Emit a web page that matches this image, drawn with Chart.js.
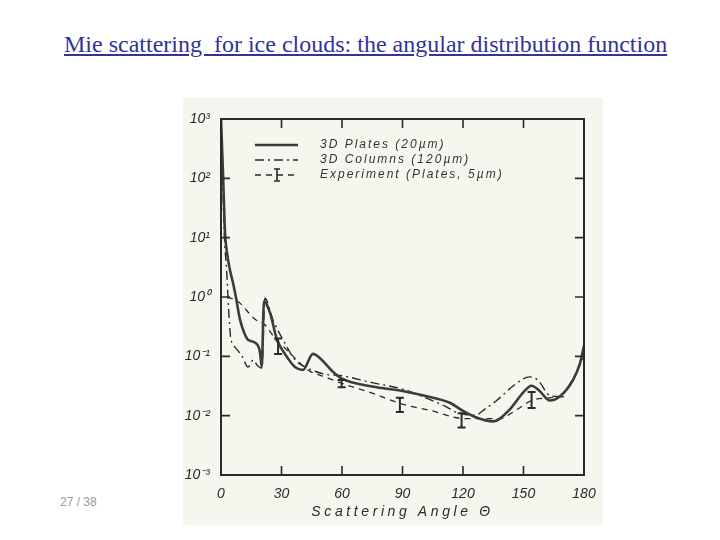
<!DOCTYPE html>
<html>
<head>
<meta charset="utf-8">
<script src="https://cdn.jsdelivr.net/npm/chart.js@4.4.1/dist/chart.umd.min.js"></script>
<style>
body { margin:0; background:#fff; width:720px; height:540px; position:relative; overflow:hidden; }
#title { position:absolute; left:64px; top:31px; font-family:'Liberation Serif', serif; font-size:24px; color:#333399; text-decoration:underline; white-space:pre; }
#page { position:absolute; left:60px; top:495px; font-family:'Liberation Sans', sans-serif; font-size:12px; color:#999; }
#scan { position:absolute; left:183px; top:98px; width:420px; height:427px; background:#f6f6ef; }
</style>
</head>
<body>
<div id="title">Mie scattering  for ice clouds: the angular distribution function</div>
<div id="page">27 / 38</div>
<div id="scan"><canvas id="phaseChart"></canvas></div>
<script>
// values (angle in degrees, phase function)
const platesAngle = [0, 1, 2, 3, 4.5, 6, 7.5, 9.4, 11.5, 13.4, 16.9, 19.3, 20.2, 21.3, 24.3, 27.8, 31.7, 36.7, 40.6, 45.6, 50, 55.5, 60, 75, 90, 100, 113.5, 120, 126, 135, 143, 150, 154, 158, 163, 168, 174.6, 178, 180];
const platesValue = [1000, 120, 12, 5.5, 2.8, 1.7, 0.95, 0.42, 0.25, 0.19, 0.17, 0.12, 0.066, 0.85, 0.54, 0.19, 0.11, 0.066, 0.059, 0.11, 0.087, 0.055, 0.042, 0.031, 0.026, 0.022, 0.0165, 0.012, 0.0095, 0.008, 0.0125, 0.025, 0.032, 0.026, 0.018, 0.021, 0.04, 0.076, 0.15];

const columnsAngle = [0, 0.8, 1.7, 2.8, 3.8, 4.7, 6, 8.3, 10.5, 13.4, 16, 18, 20.3, 21.8, 25.8, 31.7, 36.7, 43, 51.6, 60, 75, 90, 100, 110, 118, 126, 131, 136.7, 145, 153, 157, 163, 168, 172, 176, 180];
const columnsValue = [1000, 100, 10, 2.8, 0.6, 0.22, 0.16, 0.126, 0.1, 0.066, 0.087, 0.07, 0.063, 0.95, 0.41, 0.166, 0.087, 0.063, 0.05, 0.047, 0.036, 0.028, 0.021, 0.015, 0.011, 0.0102, 0.013, 0.018, 0.032, 0.045, 0.04, 0.022, 0.021, 0.03, 0.052, 0.1];

const expAngle = [3, 5, 8.6, 16.9, 21.8, 28.3, 30, 36.7, 43, 51.6, 60, 75, 89, 105, 119, 127, 138, 146.6, 154, 163, 171.4];
const expValue = [1.0, 0.95, 0.83, 0.42, 0.34, 0.17, 0.155, 0.093, 0.059, 0.045, 0.035, 0.024, 0.016, 0.012, 0.009, 0.0089, 0.0089, 0.0126, 0.018, 0.02, 0.021];

const barAngle = [28.3, 59.8, 88.7, 119.3, 154];
const barLow = [0.11, 0.030, 0.0115, 0.0063, 0.0135];
const barHigh = [0.2, 0.040, 0.020, 0.011, 0.025];

const seriesNames = ['3D Plates (20\u00b5m)', '3D Columns (120\u00b5m)', 'Experiment (Plates, 5\u00b5m)'];
const xTicks = [0, 30, 60, 90, 120, 150, 180];
const yTicks = [0.001, 0.01, 0.1, 1, 10, 100, 1000];
const yTickLabels = ['10\u207b\u00b3', '10\u207b\u00b2', '10\u207b\u00b9', '10\u2070', '10\u00b9', '10\u00b2', '10\u00b3'];

const ink = '#2a2a2a';

function pts(xs, ys) {
  return xs.map((x, i) => ({ x: x, y: ys[i] }));
}

const scanPlugin = {
  id: 'scan',
  afterUpdate(chart) {
    const s = chart.scales.x;
    if (!s._spaced) {
      const orig = s.drawTitle;
      s.drawTitle = function (a) {
        this.ctx.save();
        this.ctx.letterSpacing = '3.6px';
        orig.call(this, a);
        this.ctx.restore();
      };
      s._spaced = true;
    }
  },
  afterDatasetsDraw(chart) {
    const ctx = chart.ctx;
    const a = chart.chartArea;
    const xs = chart.scales.x, ys = chart.scales.y;
    ctx.save();
    ctx.strokeStyle = ink;

    // error bars of the experiment
    ctx.lineWidth = 2;
    barAngle.forEach((ang, i) => {
      const x = xs.getPixelForValue(ang);
      const y1 = ys.getPixelForValue(barLow[i]);
      const y2 = ys.getPixelForValue(barHigh[i]);
      ctx.beginPath();
      ctx.moveTo(x, y1); ctx.lineTo(x, y2);
      ctx.moveTo(x - 4, y1); ctx.lineTo(x + 4, y1);
      ctx.moveTo(x - 4, y2); ctx.lineTo(x + 4, y2);
      ctx.stroke();
    });

    // frame
    ctx.lineWidth = 2;
    ctx.strokeRect(a.left, a.top, a.right - a.left, a.bottom - a.top);

    // inward ticks
    ctx.lineWidth = 1.6;
    ctx.beginPath();
    xTicks.slice(1, -1).forEach(v => {
      const x = xs.getPixelForValue(v);
      ctx.moveTo(x, a.bottom); ctx.lineTo(x, a.bottom - 9);
      ctx.moveTo(x, a.top); ctx.lineTo(x, a.top + 9);
    });
    yTicks.slice(1, -1).forEach(v => {
      const y = ys.getPixelForValue(v);
      ctx.moveTo(a.left, y); ctx.lineTo(a.left + 9, y);
      ctx.moveTo(a.right, y); ctx.lineTo(a.right - 9, y);
    });
    ctx.stroke();

    // legend inside the plot
    ctx.font = 'italic 12px "Liberation Sans", sans-serif';
    ctx.letterSpacing = '2px';
    ctx.textBaseline = 'middle';
    ctx.fillStyle = '#333';
    chart.data.datasets.forEach((ds, i) => {
      const y = a.top + 26 + 15 * i;
      ctx.save();
      ctx.lineWidth = ds.borderWidth;
      ctx.strokeStyle = ds.borderColor;
      ctx.setLineDash(ds.borderDash || []);
      ctx.beginPath();
      ctx.moveTo(a.left + 34, y); ctx.lineTo(a.left + 77, y);
      ctx.stroke();
      ctx.restore();
      if (i === 2) {
        const x = a.left + 56;
        ctx.lineWidth = 1.6;
        ctx.beginPath();
        ctx.moveTo(x, y - 6); ctx.lineTo(x, y + 6);
        ctx.moveTo(x - 3, y - 6); ctx.lineTo(x + 3, y - 6);
        ctx.moveTo(x - 3, y + 6); ctx.lineTo(x + 3, y + 6);
        ctx.stroke();
      }
      ctx.fillText(ds.label, a.left + 99, y);
    });
    ctx.restore();
  }
};

new Chart(document.getElementById('phaseChart'), {
  type: 'line',
  data: {
    datasets: [
      {
        label: seriesNames[0],
        data: pts(platesAngle, platesValue),
        borderColor: '#3c3c3c',
        borderWidth: 2.6,
        pointRadius: 0,
        cubicInterpolationMode: 'monotone'
      },
      {
        label: seriesNames[1],
        data: pts(columnsAngle, columnsValue),
        borderColor: ink,
        borderWidth: 1.4,
        borderDash: [9, 4, 2, 4],
        pointRadius: 0,
        cubicInterpolationMode: 'monotone'
      },
      {
        label: seriesNames[2],
        data: pts(expAngle, expValue),
        borderColor: ink,
        borderWidth: 1.3,
        borderDash: [6, 5],
        pointRadius: 0,
        cubicInterpolationMode: 'monotone'
      }
    ]
  },
  options: {
    responsive: true,
    maintainAspectRatio: false,
    animation: false,
    layout: { padding: { top: 21, right: 19, left: 0, bottom: 0 } },
    plugins: {
      legend: { display: false },
      tooltip: { enabled: false }
    },
    scales: {
      x: {
        type: 'linear',
        min: 0,
        max: 180,
        afterBuildTicks: s => { s.ticks = xTicks.map(v => ({ value: v })); },
        afterFit: s => { s.height = 50; },
        grid: { display: false },
        border: { display: false },
        ticks: {
          color: ink,
          padding: 3,
          maxRotation: 0,
          font: { family: '"Liberation Sans", sans-serif', size: 14, style: 'italic' }
        },
        title: {
          display: true,
          text: 'Scattering Angle \u0398',
          color: ink,
          padding: { top: 2 },
          font: { family: '"Liberation Sans", sans-serif', size: 14, style: 'italic' }
        }
      },
      y: {
        type: 'logarithmic',
        min: 0.001,
        max: 1000,
        afterBuildTicks: s => { s.ticks = yTicks.map(v => ({ value: v })); },
        afterFit: s => { s.width = 38; },
        grid: { display: false },
        border: { display: false },
        ticks: {
          color: ink,
          padding: 3,
          callback: v => yTickLabels[yTicks.indexOf(v)],
          font: { family: '"Liberation Sans", sans-serif', size: 14, style: 'italic' }
        }
      }
    }
  },
  plugins: [scanPlugin]
});
</script>
</body>
</html>
